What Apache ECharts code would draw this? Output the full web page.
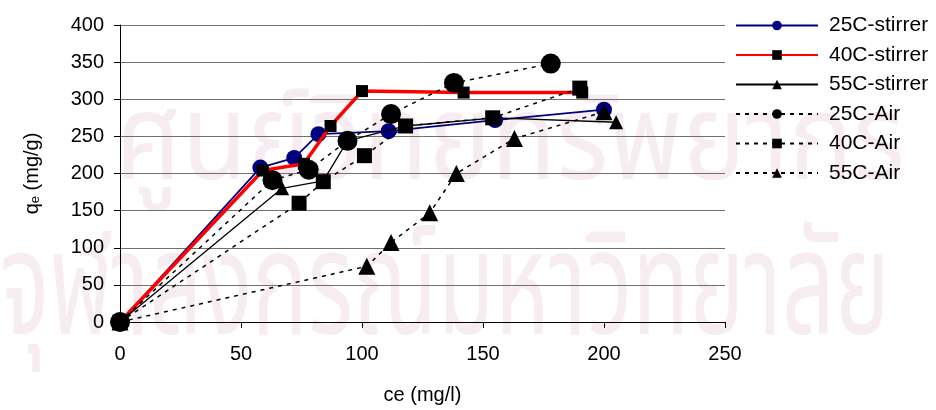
<!DOCTYPE html>
<html>
<head>
<meta charset="utf-8">
<script src="https://cdn.jsdelivr.net/npm/echarts@6/dist/echarts.min.js"></script>
<style>
  html, body { margin: 0; padding: 0; background: #fff; }
  #chart { width: 936px; height: 410px; }
</style>
</head>
<body>
<div id="chart"></div>
<script>
// Equilibrium concentration ce (mg/l) and uptake qe (mg/g) for each condition
const seriesNames = ['25C-stirrer', '40C-stirrer', '55C-stirrer', '25C-Air', '40C-Air', '55C-Air'];

const ce25Stirrer = [0, 58, 72, 82, 111, 155, 200];
const qe25Stirrer = [0, 208, 221, 253, 257, 272, 286];

const ce40Stirrer = [0, 59, 76, 87, 100, 142, 191];
const qe40Stirrer = [0, 204, 213, 264, 311, 309, 309];

const ce55Stirrer = [0, 67, 84, 94, 118, 155, 205];
const qe55Stirrer = [0, 180, 190, 244, 264, 275, 269];

const ce25Air = [0, 63, 78, 94, 112, 138, 178];
const qe25Air = [0, 191, 205, 244, 280, 322, 348];

const ce40Air = [0, 74, 84, 101, 118, 154, 190];
const qe40Air = [0, 160, 189, 224, 264, 275, 315];

const ce55Air = [0, 102, 112, 128, 139, 163, 200];
const qe55Air = [0, 75, 107, 147, 200, 247, 283];

const xTicks = [0, 50, 100, 150, 200, 250];
const yTicks = [0, 50, 100, 150, 200, 250, 300, 350, 400];

// Faint background lettering
const watermarkLines = ['ศูนย์วิทยทรัพยากร', 'จุฬาลงกรณ์มหาวิทยาลัย'];

const pairs = (xs, ys) => xs.map((x, i) => [x, ys[i]]);

const FONT = 'Liberation Sans, Arial, sans-serif';
const THAI_FONT = '"Noto Sans Thai", "Noto Sans", sans-serif';
const DASH = [4, 5];

function textWidth(text, font) {
  const ctx = document.createElement('canvas').getContext('2d');
  ctx.font = font;
  return ctx.measureText(text).width;
}

// Horizontal squeeze needed for a line of lettering to span a given width
function squeezeFor(text, size, width) {
  return width / textWidth(text, size + 'px ' + THAI_FONT);
}

function watermark(text, left, top, size, width) {
  return {
    type: 'text', z: -10, silent: true,
    x: left, y: top,
    scaleX: squeezeFor(text, size, width),
    style: { text: text, font: size + 'px ' + THAI_FONT, fill: '#f6ecf1', verticalAlign: 'top' }
  };
}

function lineSeries(name, xs, ys, opt) {
  return {
    name: name,
    type: 'line',
    data: pairs(xs, ys),
    symbol: opt.symbol,
    symbolSize: opt.size,
    showAllSymbol: true,
    lineStyle: { color: opt.lineColor, width: opt.width, type: opt.dash || 'solid' },
    itemStyle: { color: opt.markColor },
    emphasis: { disabled: true },
    animation: false,
    z: opt.z
  };
}

const chart = echarts.init(document.getElementById('chart'), null, { renderer: 'canvas' });

chart.setOption({
  animation: false,
  backgroundColor: '#ffffff',
  graphic: [
    watermark(watermarkLines[0], 115, 95, 120, 790),
    watermark(watermarkLines[1], 0, 232, 145, 890)
  ],
  grid: { left: 120, right: 211, top: 25, bottom: 85, containLabel: false },
  legend: {
    orient: 'vertical',
    left: 730,
    top: 10,
    itemWidth: 82,
    itemHeight: 12,
    itemGap: 8.5,
    data: seriesNames,
    textStyle: { fontFamily: FONT, fontSize: 21, color: '#000', padding: [0, 0, 0, 6] },
    selectedMode: false
  },
  xAxis: {
    type: 'value',
    min: xTicks[0],
    max: xTicks[xTicks.length - 1],
    interval: 50,
    name: 'ce (mg/l)',
    nameLocation: 'middle',
    nameGap: 63,
    nameTextStyle: { fontFamily: FONT, fontSize: 20, color: '#000' },
    axisLine: { lineStyle: { color: '#000', width: 1 } },
    axisTick: { show: true, inside: false, length: 6, lineStyle: { color: '#000' } },
    axisLabel: { fontFamily: FONT, fontSize: 20, color: '#000', margin: 22 },
    splitLine: { show: false }
  },
  yAxis: {
    type: 'value',
    min: yTicks[0],
    max: yTicks[yTicks.length - 1],
    interval: 50,
    name: '{q|q}{e|e}{q| (mg/g)}',
    nameLocation: 'middle',
    nameGap: 78,
    nameRotate: 90,
    nameTextStyle: {
      fontFamily: FONT, color: '#000',
      rich: {
        q: { fontFamily: FONT, fontSize: 20, color: '#000' },
        e: { fontFamily: FONT, fontSize: 13, color: '#000', verticalAlign: 'bottom', padding: [6, 0, 0, 0] }
      }
    },
    axisLine: { show: true, lineStyle: { color: '#000', width: 1 } },
    axisTick: { show: true, inside: false, length: 6, lineStyle: { color: '#000' } },
    axisLabel: { fontFamily: FONT, fontSize: 20, color: '#000', margin: 16 },
    splitLine: { show: true, lineStyle: { color: '#707070', width: 1 } }
  },
  series: [
    lineSeries(seriesNames[0], ce25Stirrer, qe25Stirrer, { symbol: 'circle', size: 16, lineColor: '#000080', markColor: '#000080', width: 1.8, z: 2 }),
    lineSeries(seriesNames[1], ce40Stirrer, qe40Stirrer, { symbol: 'rect', size: 12, lineColor: '#ff0000', markColor: '#000000', width: 3.5, z: 3 }),
    lineSeries(seriesNames[2], ce55Stirrer, qe55Stirrer, { symbol: 'triangle', size: 14, lineColor: '#000000', markColor: '#000000', width: 1.3, z: 4 }),
    lineSeries(seriesNames[3], ce25Air, qe25Air, { symbol: 'circle', size: 20, lineColor: '#000000', markColor: '#000000', width: 1.5, dash: DASH, z: 5 }),
    lineSeries(seriesNames[4], ce40Air, qe40Air, { symbol: 'rect', size: 15, lineColor: '#000000', markColor: '#000000', width: 1.5, dash: DASH, z: 6 }),
    lineSeries(seriesNames[5], ce55Air, qe55Air, { symbol: 'triangle', size: 17, lineColor: '#000000', markColor: '#000000', width: 1.5, dash: DASH, z: 7 })
  ]
});
</script>
</body>
</html>
